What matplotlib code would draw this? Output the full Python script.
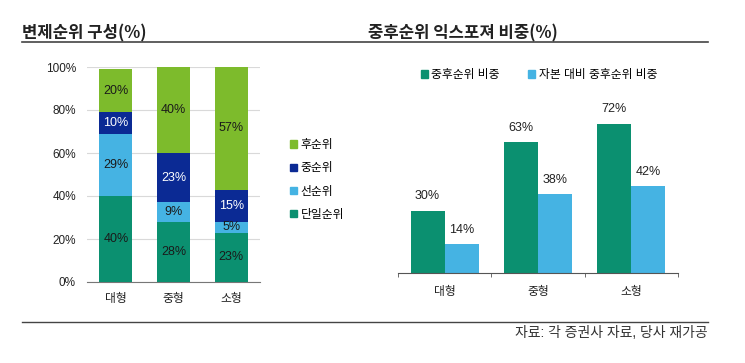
import matplotlib
matplotlib.use("Agg")
import matplotlib.pyplot as plt
from matplotlib.lines import Line2D
from matplotlib.patches import Patch

plt.rcParams['font.family'] = ['Liberation Sans', 'Noto Sans CJK KR', 'DejaVu Sans']

# 변제순위 구성 데이터
sizes = ['대형', '중형', '소형']
rank_names = ['단일순위', '선순위', '중순위', '후순위']
single = [40, 28, 23]
senior = [29, 9, 5]
mezz = [10, 23, 15]
junior = [20, 40, 57]
rank_colors = ['#0b9070', '#45b3e3', '#0b2a94', '#7dbb2c']
label_colors = ['#1a1a1a', '#1a1a1a', 'white', '#1a1a1a']

# 중후순위 익스포져 비중 데이터
exp_names = ['중후순위 비중', '자본 대비 중후순위 비중']
share = [30, 63, 72]
share_cap = [14, 38, 42]
exp_colors = ['#0b9070', '#45b3e3']

fig = plt.figure(figsize=(7.45, 3.63), dpi=100)
txt = '#222222'

# 제목과 구분선
fig.text(22/745, 1-33/363, '변제순위 구성(%)', fontsize=12, fontweight='bold',
         color=txt, va='center', ha='left', family=['Noto Sans CJK KR'])
fig.text(368/745, 1-33/363, '중후순위 익스포져 비중(%)', fontsize=12, fontweight='bold',
         color=txt, va='center', ha='left', family=['Noto Sans CJK KR'])
fig.add_artist(Line2D([22/745, 708/745], [1-42/363, 1-42/363], color='#444444', lw=1.2))
fig.add_artist(Line2D([22/745, 708/745], [1-322/363, 1-322/363], color='#444444', lw=1.0))
fig.text(708/745, 1-333/363, '자료: 각 증권사 자료, 당사 재가공', fontsize=10,
         color='#333333', va='center', ha='right')

# 왼쪽: 누적 막대
ax1 = fig.add_axes([87/745, 1-282/363, 173/745, 215/363])
x = range(len(sizes))
bottom = [0, 0, 0]
for vals, name, c, lc in zip([single, senior, mezz, junior], rank_names, rank_colors, label_colors):
    bars = ax1.bar(x, vals, width=0.57, bottom=bottom, color=c, label=name, zorder=3)
    for b, v, bt in zip(bars, vals, bottom):
        ax1.text(b.get_x() + b.get_width()/2, bt + v/2, f'{v}%', ha='center', va='center',
                 fontsize=9, color=lc, zorder=4)
    bottom = [bt + v for bt, v in zip(bottom, vals)]
ax1.set_xlim(-0.5, 2.5)
ax1.set_ylim(0, 100)
ax1.set_yticks(range(0, 101, 20))
ax1.set_yticklabels([f'{t}%' for t in range(0, 101, 20)])
ax1.set_xticks(list(x))
ax1.set_xticklabels(sizes)
ax1.grid(axis='y', color='#d9d9d9', lw=0.8, zorder=0)
for s in ['top', 'right', 'left']:
    ax1.spines[s].set_visible(False)
ax1.spines['bottom'].set_color('#777777')
ax1.tick_params(axis='both', length=0, labelsize=8.5, colors='#222222')
ax1.tick_params(axis='x', pad=8)
ax1.tick_params(axis='y', pad=8)

handles = [Patch(color=c) for c in rank_colors][::-1]
fig.legend(handles, rank_names[::-1], loc='center left', bbox_to_anchor=(0.375, 0.504),
           frameon=False, fontsize=8.5, handlelength=0.6, handleheight=0.6,
           handletextpad=0.3, labelspacing=0.95)

# 오른쪽: 묶음 막대
ax2 = fig.add_axes([398/745, 1-273/363, 280/745, 166/363])
w = 0.366
xs = [i - w/2 for i in x]
xs2 = [i + w/2 for i in x]
b1 = ax2.bar(xs, share, width=w, color=exp_colors[0], label=exp_names[0])
b2 = ax2.bar(xs2, share_cap, width=w, color=exp_colors[1], label=exp_names[1])
for bars, vals in [(b1, share), (b2, share_cap)]:
    for b, v in zip(bars, vals):
        ax2.text(b.get_x() + b.get_width()/2, v + 4, f'{v}%', ha='center', va='bottom',
                 fontsize=9, color='#222222')
ax2.set_xlim(-0.5, 2.5)
ax2.set_ylim(0, 80)
ax2.set_yticks([])
ax2.set_xticks(list(x))
ax2.set_xticklabels(sizes)
ax2.set_xticks([-0.5, 0.5, 1.5, 2.5], minor=True)
for s in ['top', 'right', 'left']:
    ax2.spines[s].set_visible(False)
ax2.spines['bottom'].set_color('#555555')
ax2.tick_params(axis='x', which='major', length=0, labelsize=8.5, colors='#222222', pad=9)
ax2.tick_params(axis='x', which='minor', length=3, color='#555555', direction='out')

fig.legend([Patch(color=c) for c in exp_colors], exp_names, loc='center',
           bbox_to_anchor=(539/745, 1-75/363), ncol=2, frameon=False, fontsize=8.5,
           handlelength=0.6, handleheight=0.6, handletextpad=0.3, columnspacing=2.4)

fig.savefig('out.png', dpi=100)
